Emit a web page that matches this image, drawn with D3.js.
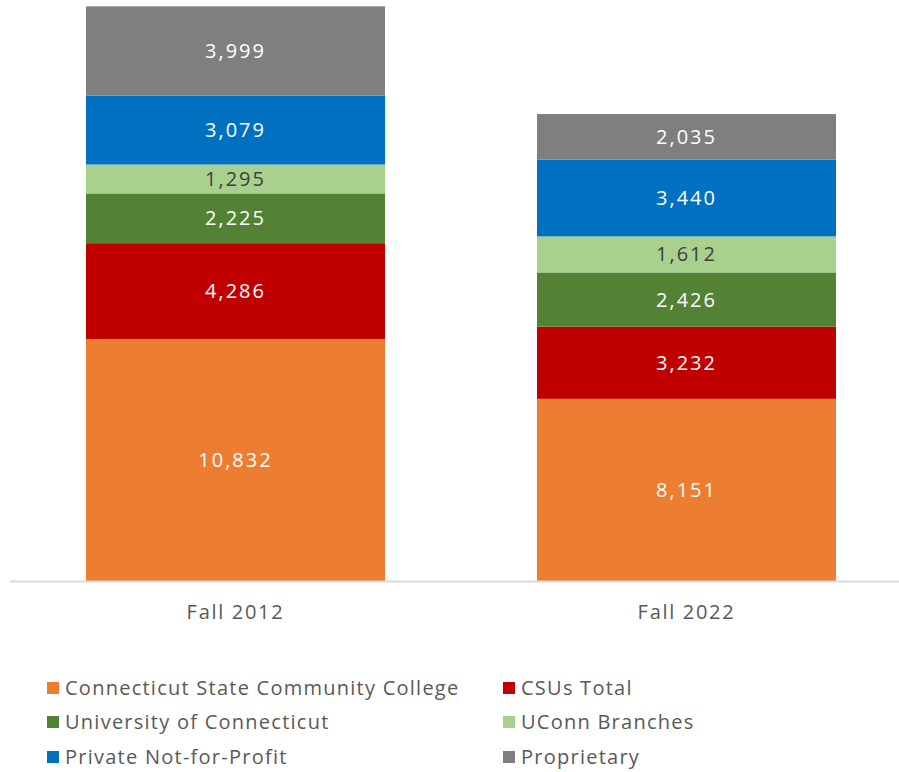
<!DOCTYPE html>
<html><head><meta charset="utf-8">
<script src="https://cdn.jsdelivr.net/npm/d3@7"></script>
<style>body{margin:0;background:#fff;} svg{display:block;}</style>
</head><body>
<svg id="c" width="899" height="772"></svg>
<script>
const categories = ["Fall 2012", "Fall 2022"];
const seriesNames = ["Connecticut State Community College", "CSUs Total", "University of Connecticut", "UConn Branches", "Private Not-for-Profit", "Proprietary"];
const seriesColors = ["#ED7D31", "#C00000", "#548235", "#A9D18E", "#0070C0", "#7F7F7F"];
const labelColors = ["#ffffff", "#ffffff", "#ffffff", "#404040", "#ffffff", "#ffffff"];
const ccc = [10832, 8151];
const csus = [4286, 3232];
const uconn = [2225, 2426];
const uconnBranches = [1295, 1612];
const privateNFP = [3079, 3440];
const proprietary = [3999, 2035];
const yMax = 26000;

const seriesValues = [ccc, csus, uconn, uconnBranches, privateNFP, proprietary];
const rows = categories.map((c, i) => {
  const r = {cat: c};
  seriesNames.forEach((s, j) => r[s] = seriesValues[j][i]);
  return r;
});
const stacked = d3.stack().keys(seriesNames)(rows);

const FONT = "'Open Sans', sans-serif";
const svg = d3.select("#c");
const x = d3.scaleBand().domain(categories).range([10, 912]).paddingInner(0.337).paddingOuter(0.1685);
const y = d3.scaleLinear().domain([0, yMax]).range([581, 0]);

const g = svg.append("g");
stacked.forEach((layer, j) => {
  g.selectAll(null).data(layer).enter().append("rect")
    .attr("x", d => x(d.data.cat))
    .attr("width", x.bandwidth())
    .attr("y", d => y(d[1]))
    .attr("height", d => y(d[0]) - y(d[1]))
    .attr("fill", seriesColors[j]);
  g.selectAll(null).data(layer).enter().append("text")
    .attr("x", d => x(d.data.cat) + x.bandwidth() / 2)
    .attr("y", d => (y(d[0]) + y(d[1])) / 2)
    .attr("dy", "0.35em")
    .attr("text-anchor", "middle")
    .attr("font-family", FONT)
    .attr("font-size", 20)
    .attr("letter-spacing", "2px")
    .attr("fill", labelColors[j])
    .text(d => d3.format(",")(d[1] - d[0]));
});

// axis baseline
const ax = svg.append("g").attr("transform", "translate(0,581)")
  .call(d3.axisBottom(x).tickSize(0).tickPadding(24));
ax.select(".domain").attr("d", "M10,0.5H899").attr("stroke", "#d9d9d9").attr("stroke-width", 2);
ax.selectAll("text").attr("font-family", FONT).attr("font-size", 20).attr("letter-spacing", "1.7px").attr("fill", "#595959");

// legend
const legendPos = [[47, 688], [503, 688], [47, 722], [503, 722], [47, 757], [503, 757]];
const leg = svg.append("g");
seriesNames.forEach((s, j) => {
  const [lx, ly] = legendPos[j];
  leg.append("rect").attr("x", lx).attr("y", ly - 6).attr("width", 12).attr("height", 12).attr("fill", seriesColors[j]);
  leg.append("text").attr("x", lx + 18).attr("y", ly).attr("dy", "0.35em")
    .attr("font-family", FONT).attr("font-size", 20).attr("letter-spacing", "1.25px")
    .attr("fill", "#595959").text(s);
});
</script>
</body></html>
